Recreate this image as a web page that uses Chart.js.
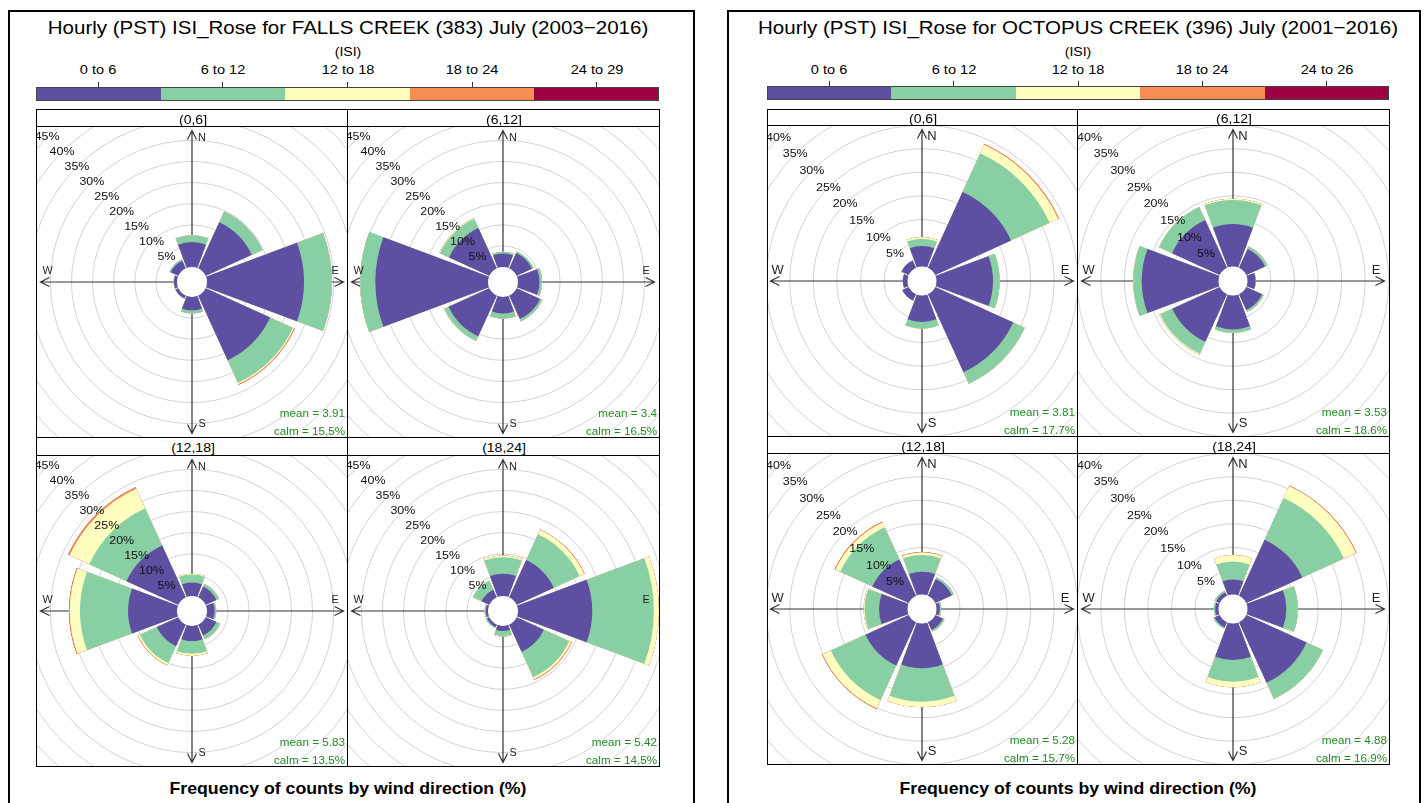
<!DOCTYPE html>
<html>
<head>
<meta charset="utf-8">
<title>Hourly ISI roses</title>
<script src="https://cdn.jsdelivr.net/npm/chart.js@4.4.1/dist/chart.umd.min.js"></script>
<style>
  html, body { margin: 0; padding: 0; background: #fff; }
  body { width: 1428px; height: 803px; position: relative; overflow: hidden;
         font-family: "Liberation Sans", Arial, Helvetica, sans-serif; color: #000; }
  .frame { position: absolute; border: 2px solid #000; box-sizing: border-box; }
  .strip { position: absolute; border: 1px solid #000; box-sizing: border-box; background: #fff; }
  .plot  { position: absolute; overflow: hidden; background: #fff; }
  .plotBorder { position: absolute; border: 1px solid #000; box-sizing: border-box; pointer-events: none; z-index: 3; }
  .plot canvas { position: absolute; }
</style>
</head>
<body>
<script>
// ---- data -------------------------------------------------------------
const DIRECTIONS = ['N', 'NE', 'E', 'SE', 'S', 'SW', 'W', 'NW'];
const HOUR_BINS = ['(0,6]', '(6,12]', '(12,18]', '(18,24]'];
const FALLS_ISI_CLASSES = ['0 to 6', '6 to 12', '12 to 18', '18 to 24', '24 to 29'];
const OCTOPUS_ISI_CLASSES = ['0 to 6', '6 to 12', '12 to 18', '18 to 24', '24 to 26'];
const FALLS_RINGS = [5, 10, 15, 20, 25, 30, 35, 40, 45];
const OCTOPUS_RINGS = [5, 10, 15, 20, 25, 30, 35, 40];

// frequency (%) of hourly counts, one row per ISI class, columns N..NW
const FALLS_0_6 = [
  [5.9, 12.0, 23.0, 16.8, 3.2, 0.7, 0.7, 2.0],
  [1.6, 2.8, 6.6, 5.9, 0.7, 0.1, 0.1, 0.3],
  [0, 0, 0, 0.3, 0, 0, 0, 0],
  [0, 0, 0, 0.2, 0, 0, 0, 0],
  [0, 0, 0, 0, 0, 0, 0, 0]
];
const FALLS_6_12 = [
  [3.2, 4.0, 5.1, 6.1, 3.9, 10.6, 26.7, 10.5],
  [0.4, 0.4, 0.6, 0.6, 1.2, 1.2, 3.6, 2.4],
  [0, 0, 0, 0, 0, 0, 0, 0.2],
  [0, 0, 0, 0, 0, 0, 0, 0],
  [0, 0, 0, 0, 0, 0, 0, 0]
];
const FALLS_12_18 = [
  [3.2, 2.8, 1.8, 2.8, 3.6, 5.6, 11.6, 13.5],
  [1.9, 0.7, 0.4, 1.0, 3.0, 4.4, 11.4, 9.7],
  [0.2, 0, 0, 0, 0.5, 0.5, 2.4, 5.1],
  [0, 0, 0, 0, 0, 0.1, 0.2, 0.4],
  [0, 0, 0, 0, 0, 0, 0, 0]
];
const FALLS_18_24 = [
  [5.3, 9.7, 17.6, 7.1, 1.2, 0.6, 0.5, 2.0],
  [3.9, 6.7, 14.6, 6.6, 1.2, 0.3, 0.3, 2.3],
  [0.4, 1.2, 1.2, 0.5, 0.1, 0, 0, 0],
  [0, 0.1, 0, 0.15, 0, 0, 0, 0],
  [0, 0, 0, 0, 0, 0, 0, 0]
];
const OCTOPUS_0_6 = [
  [4.35, 17.7, 12.0, 18.2, 5.6, 1.5, 1.0, 1.7],
  [1.55, 9.0, 1.4, 2.7, 1.4, 0, 0, 0],
  [0.35, 2.0, 0, 0, 0, 0, 0, 0],
  [0, 0.2, 0, 0, 0, 0, 0, 0],
  [0, 0, 0, 0, 0, 0, 0, 0]
];
const OCTOPUS_6_12 = [
  [9.0, 4.4, 1.7, 3.7, 7.2, 11.1, 16.3, 11.15],
  [5.1, 0.5, 0.1, 0.4, 0.7, 2.8, 1.8, 3.05],
  [0.3, 0, 0, 0, 0, 0.2, 0, 0],
  [0, 0, 0, 0, 0, 0, 0, 0],
  [0, 0, 0, 0, 0, 0, 0, 0]
];
const OCTOPUS_12_18 = [
  [4.85, 3.9, 0.7, 1.8, 9.5, 10.1, 6.05, 8.5],
  [3.55, 0.45, 0.3, 0.4, 7.1, 8.1, 3.05, 7.5],
  [0.5, 0, 0, 0, 1.2, 1.9, 0.2, 1.1],
  [0.1, 0, 0, 0, 0, 0.15, 0, 0.2],
  [0, 0, 0, 0, 0, 0, 0, 0]
];
const OCTOPUS_18_24 = [
  [3.2, 13.1, 8.25, 14.1, 7.75, 1.2, 0.7, 0.8],
  [3.8, 9.7, 2.45, 3.8, 4.6, 0.3, 0.3, 0.4],
  [1.4, 2.8, 0, 0, 1.2, 0, 0, 0],
  [0, 0.15, 0, 0, 0, 0, 0, 0],
  [0, 0, 0, 0, 0, 0, 0, 0]
];
const FALLS_MEAN = [3.91, 3.4, 5.83, 5.42];
const FALLS_CALM = [15.5, 16.5, 13.5, 14.5];
const OCTOPUS_MEAN = [3.81, 3.53, 5.28, 4.88];
const OCTOPUS_CALM = [17.7, 18.6, 15.7, 16.9];

// ---- styling & layout --------------------------------------------------
const COLORS = ['#5E4FA2', '#88CFA4', '#FFFFBF', '#F88D52', '#9E0142'];
const GAP = 4;          // degrees of white space between neighbouring wedges
const HALF = 230;       // half size of each rose canvas (clipped by its panel)
const AXIS_LEN = 151.5; // length of the compass arms
const STRETCH = 1.08;   // horizontal stretch of all lettering
const FONT = '"Liberation Sans", Arial, Helvetica, sans-serif';

const FIGURES = [
  {
    title: 'Hourly (PST) ISI_Rose for FALLS CREEK (383) July (2003\u22122016)',
    classes: FALLS_ISI_CLASSES, rings: FALLS_RINGS,
    panels: [FALLS_0_6, FALLS_6_12, FALLS_12_18, FALLS_18_24],
    means: FALLS_MEAN, calms: FALLS_CALM,
    frame: [8, 10, 687, 805], cols: [36, 347, 659], rows: [109, 126, 437, 455, 766],
    bar: [87, 101], pxPerPct: 4.22, hole: 15, letterSize: 10
  },
  {
    title: 'Hourly (PST) ISI_Rose for OCTOPUS CREEK (396) July (2001\u22122016)',
    classes: OCTOPUS_ISI_CLASSES, rings: OCTOPUS_RINGS,
    panels: [OCTOPUS_0_6, OCTOPUS_6_12, OCTOPUS_12_18, OCTOPUS_18_24],
    means: OCTOPUS_MEAN, calms: OCTOPUS_CALM,
    frame: [727, 10, 694, 805], cols: [767, 1077, 1389], rows: [109, 125, 436, 453, 764],
    bar: [86, 100], pxPerPct: 4.71, hole: 14.5, letterSize: 12
  }
];

function addText(parent, str, x, y, o = {}) {
  const d = document.createElement('div');
  d.textContent = str;
  const align = o.align || 'center';
  const ax = align === 'right' ? '-100%' : align === 'left' ? '0' : '-50%';
  d.style.cssText =
    `position:absolute;left:${x}px;top:${y}px;white-space:nowrap;line-height:1;` +
    `font-size:${o.size || 12}px;font-weight:${o.weight || 'normal'};color:${o.color || '#000'};` +
    `transform-origin:${align === 'right' ? 'right' : align === 'left' ? 'left' : 'center'} center;` +
    `transform:translate(${ax},-50%) scaleX(${STRETCH});z-index:${o.z || 1};`;
  parent.appendChild(d);
  return d;
}

function addBox(cls, x, y, w, h, parent = document.body) {
  const d = document.createElement('div');
  d.className = cls;
  d.style.left = x + 'px'; d.style.top = y + 'px';
  d.style.width = w + 'px'; d.style.height = h + 'px';
  parent.appendChild(d);
  return d;
}

// compass arms, calm hole, ring labels and compass letters for one rose
function roseDecor(fig, ringLabels) {
  return {
    id: 'roseDecor',
    beforeDatasetsDraw(chart) {
      const s = chart.scales.r, ctx = chart.ctx;
      const cx = s.xCenter, cy = s.yCenter, L = AXIS_LEN, a = 9, w = 4.5;
      ctx.save();
      ctx.strokeStyle = '#333';
      ctx.lineWidth = 1.2;
      ctx.beginPath();
      ctx.moveTo(cx - L, cy); ctx.lineTo(cx + L, cy);
      ctx.moveTo(cx, cy - L); ctx.lineTo(cx, cy + L);
      [[0, -1], [1, 0], [0, 1], [-1, 0]].forEach(([dx, dy]) => {
        const tx = cx + dx * L, ty = cy + dy * L, px = -dy, py = dx;
        ctx.moveTo(tx - dx * a + px * w, ty - dy * a + py * w);
        ctx.lineTo(tx, ty);
        ctx.lineTo(tx - dx * a - px * w, ty - dy * a - py * w);
      });
      ctx.stroke();
      ctx.restore();
    },
    afterDatasetsDraw(chart) {
      const s = chart.scales.r, ctx = chart.ctx;
      const cx = s.xCenter, cy = s.yCenter;
      ctx.save();
      // calm circle in the middle
      ctx.fillStyle = '#fff';
      ctx.beginPath();
      ctx.arc(cx, cy, s.getDistanceFromCenterForValue(0), 0, Math.PI * 2);
      ctx.fill();
      // percentage labels along the north-west diagonal
      ctx.fillStyle = '#111';
      ctx.textAlign = 'center';
      ctx.textBaseline = 'middle';
      ctx.font = `11.5px ${FONT}`;
      ringLabels.forEach(v => {
        const r = s.getDistanceFromCenterForValue(v) / Math.SQRT2;
        ctx.save();
        ctx.translate(cx - r, cy - r);
        ctx.scale(STRETCH, 1);
        ctx.fillText(v + '%', 0, 0);
        ctx.restore();
      });
      // compass letters
      ctx.fillStyle = '#222';
      ctx.font = `${fig.letterSize}px ${FONT}`;
      [['N', 10, -144], ['E', 143, -10.5], ['S', 10, 142.5], ['W', -144.5, -10.5]].forEach(([t, dx, dy]) => {
        ctx.save();
        ctx.translate(cx + dx, cy + dy);
        ctx.scale(STRETCH, 1);
        ctx.fillText(t, 0, 0);
        ctx.restore();
      });
      ctx.restore();
    }
  };
}

function drawRose(container, w, h, fig, layers) {
  const canvas = document.createElement('canvas');
  canvas.width = HALF * 2;
  canvas.height = HALF * 2;
  canvas.style.left = Math.round(w / 2 - HALF) + 'px';
  canvas.style.top = Math.round(h / 2 - HALF) + 'px';
  container.appendChild(canvas);

  // stacked classes -> cumulative outer radii, smallest class drawn on top
  const cumulative = [];
  let running = DIRECTIONS.map(() => 0);
  layers.forEach(row => {
    running = running.map((v, i) => v + row[i]);
    cumulative.push(running.slice());
  });

  const labels = [];
  DIRECTIONS.forEach(d => { labels.push(d); labels.push(''); });

  const datasets = cumulative.map((vals, li) => ({
    label: fig.classes[li],
    data: vals.flatMap(v => [v, 0]),
    backgroundColor: c => (c.dataIndex % 2 ? 'rgba(0,0,0,0)' : COLORS[li]),
    borderWidth: 0,
    angle: c => (c.dataIndex % 2 ? GAP : 45 - GAP)
  }));

  const rMin = -fig.hole / fig.pxPerPct;
  const rMax = rMin + HALF / fig.pxPerPct;

  new Chart(canvas, {
    type: 'polarArea',
    data: { labels, datasets },
    options: {
      responsive: false,
      animation: false,
      events: [],
      layout: { padding: 0 },
      plugins: { legend: { display: false }, tooltip: { enabled: false } },
      scales: {
        r: {
          min: rMin,
          max: rMax,
          startAngle: -(45 - GAP) / 2,
          ticks: { display: false },
          grid: { color: '#d2d2d2', lineWidth: 1, circular: true },
          angleLines: { display: false },
          pointLabels: { display: false },
          afterBuildTicks: scale => { scale.ticks = fig.rings.map(v => ({ value: v })); }
        }
      }
    },
    plugins: [roseDecor(fig, fig.rings)]
  });
}

function drawFigure(fig) {
  const [fx, fy, fw, fh] = fig.frame;
  addBox('frame', fx, fy, fw, fh);
  const [c0, c1, c2] = fig.cols;
  const mid = (c0 + c2) / 2;

  addText(document.body, fig.title, mid, 27, { size: 19 });
  addText(document.body, '(ISI)', mid, 51, { size: 13 });

  // colour key
  const segW = (c2 - c0) / fig.classes.length;
  const [b0, b1] = fig.bar;
  fig.classes.forEach((name, i) => {
    const seg = addBox('abs', c0 + i * segW, b0, segW + 0.5, b1 - b0);
    seg.style.position = 'absolute';
    seg.style.background = COLORS[i];
    const tx = c0 + (i + 0.5) * segW;
    const tick = addBox('abs', tx - 0.5, b0 - 5.5, 1, 5.5);
    tick.style.position = 'absolute';
    tick.style.background = '#333';
    addText(document.body, name, tx, 70, { size: 13.5 });
  });
  const barEdge = addBox('abs', c0, b0, c2 - c0, b1 - b0);
  barEdge.style.position = 'absolute';
  barEdge.style.boxSizing = 'border-box';
  barEdge.style.border = '1px solid #444';

  // four hourly panels
  const [s1, p1, s2, p2, pEnd] = fig.rows;
  const rowSpec = [[s1, p1, s2], [s2, p2, pEnd]];
  fig.panels.forEach((layers, idx) => {
    const col = idx % 2, row = Math.floor(idx / 2);
    const x0 = col ? c1 : c0, x1 = col ? c2 : c1;
    const [st, pt, pb] = rowSpec[row];
    const w = x1 - x0, h = pb - pt;

    const strip = addBox('strip', x0, st, w + 1, pt - st + 1);
    addText(strip, HOUR_BINS[idx], w / 2, (pt - st) / 2, { size: 13 });

    const plot = addBox('plot', x0, pt, w, h);
    drawRose(plot, w, h, fig, layers);

    const border = addBox('plotBorder', x0, pt, w + 1, h + 1);
    addText(border, `mean = ${fig.means[idx]}`, w - 3, h - 25, { size: 10.8, color: '#228B22', align: 'right' });
    addText(border, `calm = ${fig.calms[idx]}%`, w - 3, h - 7, { size: 10.8, color: '#228B22', align: 'right' });
  });

  addText(document.body, 'Frequency of counts by wind direction (%)', mid, 788, { size: 16.4, weight: 'bold' });
}

FIGURES.forEach(drawFigure);
</script>
</body>
</html>
